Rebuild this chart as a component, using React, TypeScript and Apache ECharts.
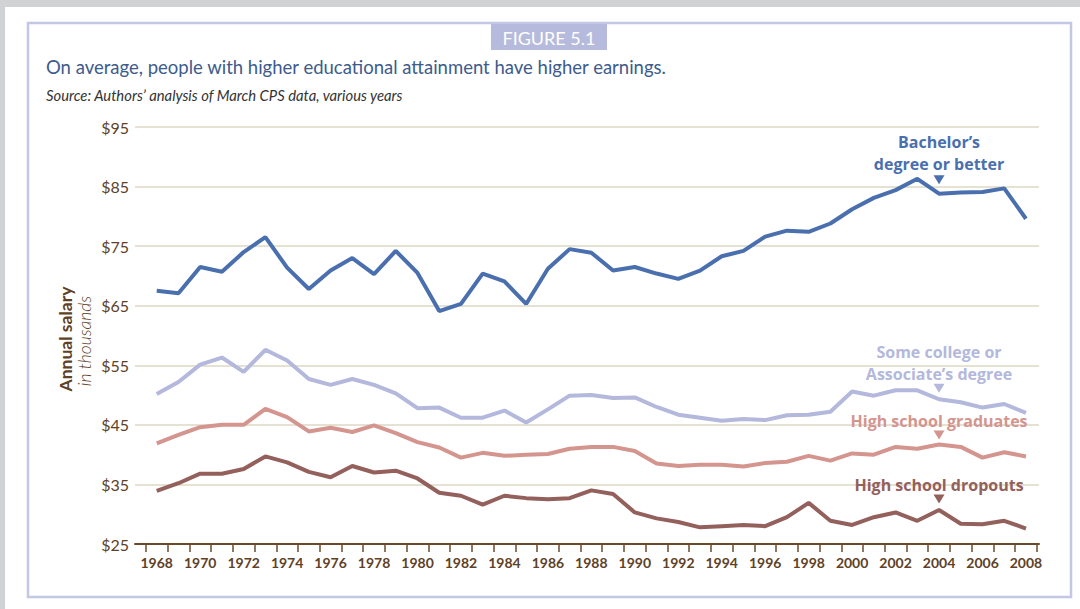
import { useEffect, useRef } from 'react';
import * as echarts from 'echarts';

const years = [
  1968, 1969, 1970, 1971, 1972, 1973, 1974, 1975, 1976, 1977,
  1978, 1979, 1980, 1981, 1982, 1983, 1984, 1985, 1986, 1987,
  1988, 1989, 1990, 1991, 1992, 1993, 1994, 1995, 1996, 1997,
  1998, 1999, 2000, 2001, 2002, 2003, 2004, 2005, 2006, 2007, 2008,
];

const bachelors = [
  67.5, 67.1, 71.5, 70.7, 74.0, 76.5, 71.4, 67.8, 70.9, 73.0,
  70.3, 74.2, 70.5, 64.1, 65.3, 70.4, 69.1, 65.3, 71.2, 74.5,
  73.9, 70.9, 71.5, 70.4, 69.5, 70.9, 73.3, 74.2, 76.6, 77.6,
  77.4, 78.8, 81.2, 83.1, 84.4, 86.3, 83.8, 84.0, 84.1, 84.7, 79.6,
];

const someCollege = [
  50.2, 52.2, 55.1, 56.3, 53.9, 57.6, 55.8, 52.7, 51.7, 52.7,
  51.7, 50.3, 47.8, 47.9, 46.2, 46.2, 47.4, 45.4, 47.6, 49.9,
  50.0, 49.5, 49.6, 48.0, 46.7, 46.2, 45.7, 46.0, 45.8, 46.6,
  46.7, 47.2, 50.6, 49.9, 50.8, 50.8, 49.3, 48.8, 47.9, 48.5, 47.0,
];

const hsGraduates = [
  41.9, 43.3, 44.6, 45.0, 45.0, 47.7, 46.3, 43.9, 44.5, 43.8,
  44.9, 43.6, 42.1, 41.2, 39.5, 40.3, 39.8, 40.0, 40.1, 41.0,
  41.3, 41.3, 40.6, 38.5, 38.1, 38.3, 38.3, 38.0, 38.6, 38.8,
  39.8, 39.0, 40.2, 40.0, 41.3, 41.0, 41.7, 41.3, 39.5, 40.4, 39.7,
];

const hsDropouts = [
  33.9, 35.2, 36.8, 36.8, 37.6, 39.7, 38.7, 37.1, 36.2, 38.1,
  37.0, 37.3, 36.0, 33.6, 33.1, 31.6, 33.1, 32.7, 32.5, 32.7,
  34.0, 33.4, 30.3, 29.3, 28.7, 27.8, 28.0, 28.2, 28.0, 29.5,
  31.9, 28.9, 28.2, 29.5, 30.3, 28.9, 30.7, 28.4, 28.3, 28.9, 27.6,
];

const xLabelYears = [
  1968, 1970, 1972, 1974, 1976, 1978, 1980, 1982, 1984, 1986, 1988,
  1990, 1992, 1994, 1996, 1998, 2000, 2002, 2004, 2006, 2008,
];

const seriesLabels = [
  'Bachelor’s\ndegree or better',
  'Some college or\nAssociate’s degree',
  'High school graduates',
  'High school dropouts',
];
const seriesColors = ['#4a6fae', '#b3b8dc', '#d4958f', '#93605c'];
const labelYear = 2004;

const BROWN = '#5e4126';

function makeSeries(
  name: string,
  values: number[],
  color: string,
  markerOffset: number,
  labelDistance: number,
) {
  const idx = years.indexOf(labelYear);
  return {
    type: 'line',
    name,
    data: years.map((y, i) => [y, values[i]]),
    symbol: 'none',
    silent: true,
    lineStyle: { color, width: 4 },
    itemStyle: { color },
    markPoint: {
      symbol: 'path://M0 0 L12 0 L6 10 Z',
      symbolSize: [11, 9],
      symbolOffset: [0, markerOffset],
      itemStyle: { color },
      silent: true,
      data: [{ coord: [labelYear, values[idx]] }],
      label: {
        show: true,
        position: 'top',
        distance: labelDistance,
        formatter: name,
        color,
        fontFamily: 'Open Sans',
        fontWeight: 'bold',
        fontSize: 16,
        lineHeight: 22,
        align: 'center',
      },
    },
  };
}

export default function App() {
  const ref = useRef<HTMLDivElement>(null);
  useEffect(() => {
    const chart = echarts.init(ref.current!, null, { renderer: 'svg' });
    const ticks = years.map((y) => y - 0.5).concat([years[years.length - 1] + 0.5]);
    chart.setOption({
      animation: false,
      backgroundColor: '#ffffff',
      textStyle: { fontFamily: 'Lato' },
      grid: { left: 135, right: 41, top: 127, bottom: 65 },
      xAxis: {
        type: 'value',
        min: 1967,
        max: 2008.6,
        axisLine: { show: true, lineStyle: { color: '#6b4a2c', width: 2 } },
        axisTick: {
          show: true,
          customValues: ticks,
          length: 8,
          lineStyle: { color: '#6b4a2c', width: 1.5 },
        },
        axisLabel: {
          customValues: xLabelYears,
          formatter: (v: number) => String(v),
          fontFamily: 'Lato',
          fontWeight: 'bold',
          fontSize: 14,
          color: BROWN,
          margin: 11,
        },
        splitLine: { show: false },
      },
      yAxis: {
        type: 'value',
        min: 25,
        max: 95,
        interval: 10,
        axisLine: { show: false },
        axisTick: { show: false },
        axisLabel: {
          formatter: '${value}',
          fontFamily: 'Lato',
          fontSize: 16,
          color: BROWN,
          margin: 6,
        },
        splitLine: { lineStyle: { color: '#dcd9c6', width: 1.5 } },
      },
      series: [
        makeSeries(seriesLabels[3], hsDropouts, seriesColors[3], -11, -1),
        makeSeries(seriesLabels[2], hsGraduates, seriesColors[2], -9.5, -1.5),
        makeSeries(seriesLabels[1], someCollege, seriesColors[1], -11, -1.5),
        makeSeries(seriesLabels[0], bachelors, seriesColors[0], -14, 0),
      ],
      graphic: [
        { type: 'rect', shape: { x: 0, y: 0, width: 1080, height: 7 }, style: { fill: '#d1d2d4' }, silent: true },
        { type: 'rect', shape: { x: 0, y: 0, width: 5, height: 609 }, style: { fill: '#d1d2d4' }, silent: true },
        {
          type: 'rect',
          shape: { x: 28, y: 23, width: 1043, height: 574 },
          style: { fill: 'none', stroke: '#c3c7e3', lineWidth: 2.5 },
          silent: true,
        },
        { type: 'rect', shape: { x: 491, y: 24, width: 116, height: 26 }, style: { fill: '#b6badc' }, silent: true },
        {
          type: 'text',
          x: 549,
          y: 37.5,
          style: {
            text: 'FIGURE 5.1',
            fill: '#ffffff',
            fontFamily: 'Lato',
            fontSize: 18,
            textAlign: 'center',
            textVerticalAlign: 'middle',
          },
        },
        {
          type: 'text',
          x: 46,
          y: 67,
          style: {
            text: 'On average, people with higher educational attainment have higher earnings.',
            fill: '#3d5b8c',
            fontFamily: 'Lato',
            fontSize: 18.5,
            textAlign: 'left',
            textVerticalAlign: 'middle',
          },
        },
        {
          type: 'text',
          x: 46,
          y: 95,
          style: {
            text: 'Source: Authors’ analysis of March CPS data, various years',
            fill: '#333333',
            fontFamily: 'Lato',
            fontStyle: 'italic',
            fontSize: 14.8,
            textAlign: 'left',
            textVerticalAlign: 'middle',
          },
        },
        {
          type: 'text',
          x: 65,
          y: 339,
          rotation: Math.PI / 2,
          style: {
            text: 'Annual salary',
            fill: BROWN,
            fontFamily: 'Lato',
            fontWeight: 'bold',
            fontSize: 17.5,
            textAlign: 'center',
            textVerticalAlign: 'middle',
          },
        },
        {
          type: 'text',
          x: 84,
          y: 341,
          rotation: Math.PI / 2,
          style: {
            text: 'in thousands',
            fill: BROWN,
            fontFamily: 'Lato',
            fontStyle: 'italic',
            fontWeight: 300,
            fontSize: 17.5,
            textAlign: 'center',
            textVerticalAlign: 'middle',
          },
        },
      ],
    });
    return () => chart.dispose();
  }, []);
  return (
    <div
      ref={ref}
      style={{ position: 'absolute', left: 0, top: 0, width: 1080, height: 609 }}
    />
  );
}
